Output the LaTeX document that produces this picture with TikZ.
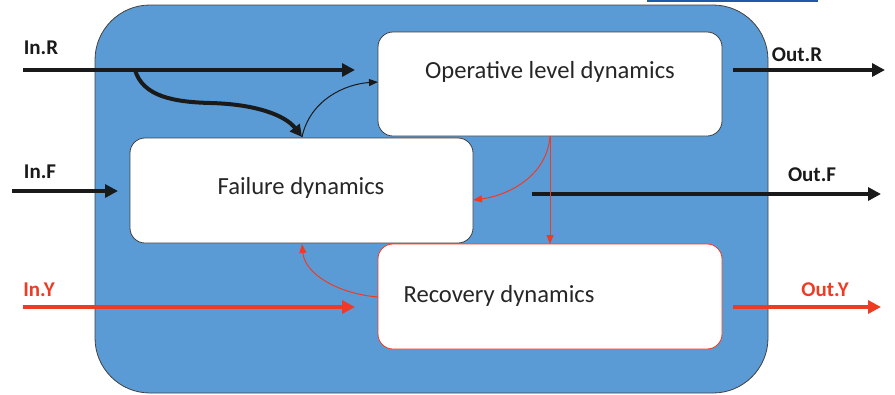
\documentclass[tikz,border=0pt]{standalone}
\usepackage{fontspec}
\setmainfont{Carlito}
\usetikzlibrary{arrows.meta}
\definecolor{sysblue}{HTML}{5B9BD5}
\definecolor{topblue}{HTML}{1F5AA6}
\definecolor{lred}{HTML}{EE3B24}
\definecolor{lblack}{HTML}{1A1A1A}
\definecolor{txt}{HTML}{262626}
\tikzset{
  sysbox/.style={draw=black!75, line width=0.8pt, fill=sysblue, rounded corners=55pt},
  blockbox/.style={draw=black!75, line width=0.8pt, fill=white, rounded corners=15pt, minimum width=344pt, minimum height=104pt, inner sep=0pt},
  redbox/.style={blockbox, draw=lred},
  blocktxt/.style={font=\fontsize{24.6}{28}\selectfont, text=txt, inner sep=0pt},
  iolbl/.style={font=\fontsize{21}{24}\selectfont\bfseries, text=lblack, inner sep=0pt},
  redlbl/.style={iolbl, text=lred},
  thickarr/.style={line width=4pt, draw=lblack, -{Triangle[length=13pt,width=13pt]}},
  thickred/.style={thickarr, draw=lred},
  thinarr/.style={line width=1pt, draw=lblack, -{Triangle[length=9pt,width=7pt]}},
  thinred/.style={thinarr, draw=lred},
}
\begin{document}
\begin{tikzpicture}[x=1pt,y=-1pt]
\useasboundingbox (0,0) rectangle (895,394);
% top blue bar
\fill[topblue] (647,0) rectangle (818,2.2);
% system box
\draw[sysbox] (95,5) rectangle (768,393);
% blocks
\node[blockbox] (op) at (550,84) {};
\node[blockbox, minimum width=343pt, minimum height=105pt] (fail) at (301.5,190.5) {};
\node[redbox, minimum height=105pt] (rec) at (550,296.5) {};
\node[blocktxt] (optxt) at (550,72) {Operative level dynamics};
\node[blocktxt] (failtxt) at (301,188) {Failure dynamics};
\node[blocktxt] (rectxt) at (499,296) {Recovery dynamics};
% io labels
\node[iolbl] (inr) at (41,48) {In.R};
\node[iolbl] (inf) at (40,172) {In.F};
\node[redlbl] (iny) at (39,290) {In.Y};
\node[iolbl] (outr) at (797,55) {Out.R};
\node[iolbl] (outf) at (812,175) {Out.F};
\node[redlbl] (outy) at (825,290) {Out.Y};
% coordinates
\coordinate (inrS) at (23,70);
\coordinate (inrE) at (355,70);
\coordinate (infS) at (12,191);
\coordinate (infE) at (118,191);
\coordinate (inyS) at (23,307);
\coordinate (inyE) at (355,307);
\coordinate (outrS) at (733,70);
\coordinate (outrE) at (885,70);
\coordinate (outfS) at (532,194);
\coordinate (outfE) at (881,194);
\coordinate (outyS) at (733,307);
\coordinate (outyE) at (881,307);
\coordinate (br) at (135,70);
\coordinate (mid) at (210,103);
\coordinate (failtop) at (302,137);
\coordinate (opleft) at (378,82);
\coordinate (opbot) at (550,136);
\coordinate (failright) at (473,200);
\coordinate (rectop) at (550,244);
\coordinate (recleft) at (378,297);
\coordinate (failbot) at (302,244);
% arrows
\draw[thickarr] (inrS) -- (inrE);
\draw[thickarr] (infS) -- (infE);
\draw[thickred] (inyS) -- (inyE);
\draw[thickarr] (outrS) -- (outrE);
\draw[thickarr] (outfS) -- (outfE);
\draw[thickred] (outyS) -- (outyE);
\draw[thickarr, -{Triangle[length=12pt,width=12pt]}] (br) .. controls (143,97) and (175,102) .. (mid) .. controls (255,104) and (285,115) .. (failtop);
\draw[thinarr] (failtop) .. controls (310,100) and (345,84) .. (opleft);
\draw[thinred] (opbot) .. controls (547,178) and (505,196) .. (failright);
\draw[thinred] (opbot) -- (rectop);
\draw[thinred] (recleft) .. controls (340,294) and (305,275) .. (failbot);
\end{tikzpicture}
\end{document}
